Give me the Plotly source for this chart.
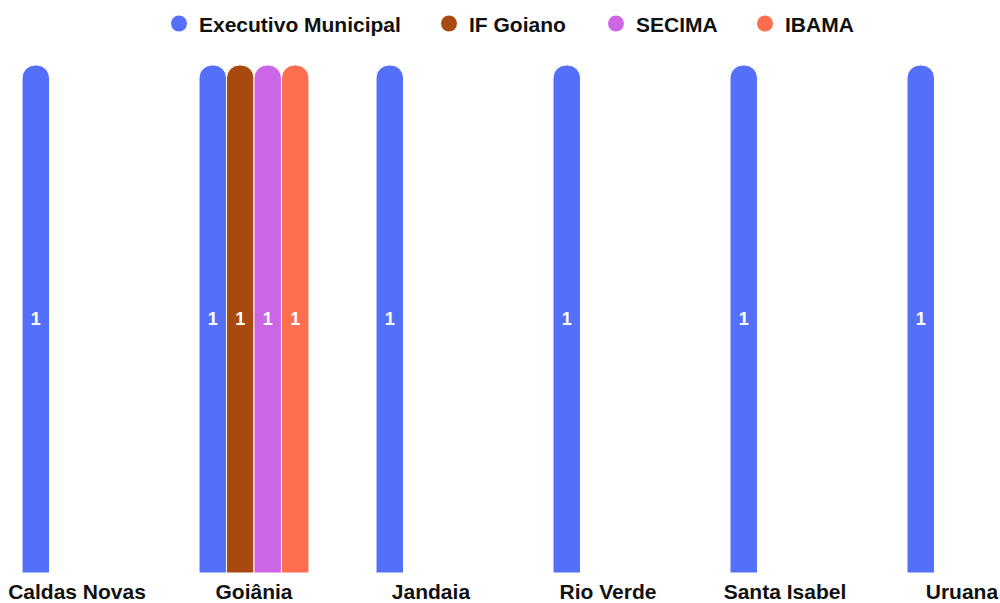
import plotly.graph_objects as go

categories = ["Caldas Novas", "Goiânia", "Jandaia", "Rio Verde", "Santa Isabel", "Uruana"]
series_names = ["Executivo Municipal", "IF Goiano", "SECIMA", "IBAMA"]
executivo = [1, 1, 1, 1, 1, 1]
if_goiano = [None, 1, None, None, None, None]
secima = [None, 1, None, None, None, None]
ibama = [None, 1, None, None, None, None]
series_values = [executivo, if_goiano, secima, ibama]
colors = ["#5470FA", "#A84A10", "#CC66E6", "#FF6E4F"]
legend_x = [0.159, 0.429, 0.596, 0.745]

FONT = "Liberation Sans, Arial, sans-serif"

fig = go.Figure()
for name, vals, col in zip(series_names, series_values, colors):
    fig.add_trace(go.Bar(
        x=categories, y=vals, name=name, showlegend=False,
        marker=dict(color=col, line=dict(color="white", width=1)),
        text=[str(v) if v is not None else "" for v in vals],
        textposition="inside", insidetextanchor="middle", textangle=0,
        textfont=dict(family=FONT, size=18, color="white", weight="bold"),
        constraintext="none",
        hoverinfo="skip",
    ))

legend_layouts = {}
for i, (name, col, lx) in enumerate(zip(series_names, colors, legend_x)):
    key = "legend" if i == 0 else f"legend{i + 1}"
    fig.add_trace(go.Scatter(
        x=[None], y=[None], mode="markers", name=name, legend=key,
        marker=dict(symbol="circle", size=20, color=col),
    ))
    legend_layouts[key] = dict(
        orientation="h", x=lx, xanchor="left", y=1.081, yanchor="middle",
        font=dict(family=FONT, size=21, color="#111111", weight="bold"),
        itemsizing="trace", bgcolor="rgba(0,0,0,0)",
    )

fig.update_layout(
    width=1000, height=603,
    margin=dict(l=0, r=0, t=65, b=30, autoexpand=False),
    paper_bgcolor="white", plot_bgcolor="white",
    barmode="group", bargap=0.379, bargroupgap=0,
    barcornerradius=13,
    font=dict(family=FONT, color="#111111"),
    xaxis=dict(
        type="category", range=[-0.435, 5.215],
        showgrid=False, zeroline=False, showline=False, ticks="",
        ticklabelstandoff=4, automargin=False,
        tickfont=dict(family=FONT, size=21, color="#111111", weight="bold"),
    ),
    yaxis=dict(
        range=[0, 1], visible=False, showgrid=False, zeroline=False,
    ),
    **legend_layouts,
)

fig.write_html("out.html", config={"displayModeBar": False},
               post_script="document.body.style.margin='0';")
